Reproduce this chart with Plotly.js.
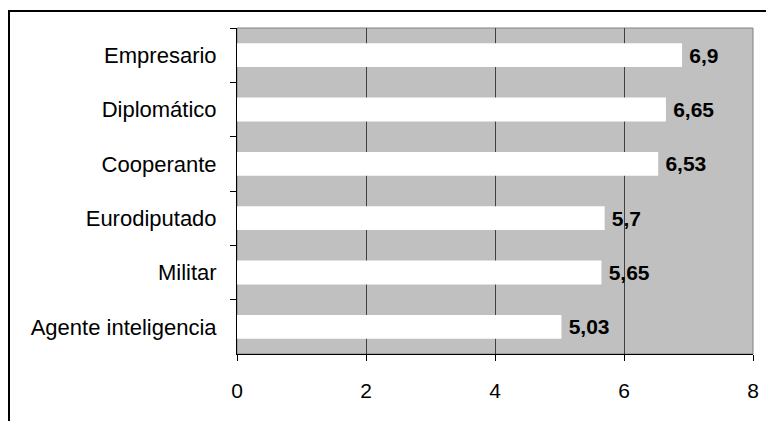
<!DOCTYPE html>
<html>
<head>
<meta charset="utf-8">
<script src="https://cdn.plot.ly/plotly-3.0.1.min.js"></script>
<style>
html,body{margin:0;padding:0;background:#fff;overflow:hidden;}
#frame{position:absolute;left:8px;top:10px;width:770px;height:430px;border:2px solid #000;box-sizing:border-box;}
#chart{position:absolute;left:0;top:0;width:766px;height:421px;}
</style>
</head>
<body>
<div id="frame"></div>
<div id="chart"></div>
<script>
const categories = ["Empresario","Diplomático","Cooperante","Eurodiputado","Militar","Agente inteligencia"];
const values = [6.9, 6.65, 6.53, 5.7, 5.65, 5.03];
const xTicks = [0, 2, 4, 6, 8];
const labels = values.map(v => '\u2009' + String(v).replace('.', ','));

const trace = {
  type: 'bar',
  orientation: 'h',
  y: categories,
  x: values,
  text: labels,
  textposition: 'outside',
  cliponaxis: false,
  textfont: {family: 'Liberation Sans, Arial, sans-serif', size: 21, color: '#000', weight: 'bold'},
  marker: {color: '#ffffff', line: {width: 0}},
  hoverinfo: 'none'
};

const layout = {
  width: 766, height: 421,
  margin: {l: 237, r: 13, t: 28, b: 67},
  paper_bgcolor: 'rgba(0,0,0,0)',
  plot_bgcolor: '#c0c0c0',
  bargap: 0.56,
  showlegend: false,
  font: {family: 'Liberation Sans, Arial, sans-serif', size: 21, color: '#000'},
  xaxis: {
    range: [0, 8],
    tickvals: xTicks,
    ticktext: xTicks.map(String),
    tickfont: {size: 21},
    showgrid: true, gridcolor: '#404040', gridwidth: 1,
    zeroline: false,
    showline: true, linecolor: '#000', linewidth: 1,
    ticks: 'outside', ticklen: 6, tickcolor: '#000',
    ticklabelstandoff: 12,
    fixedrange: true
  },
  yaxis: {
    type: 'category',
    autorange: 'reversed',
    tickfont: {size: 22},
    showgrid: false, zeroline: false,
    showline: true, linecolor: '#000', linewidth: 1,
    ticks: 'outside', ticklen: 6, tickcolor: '#000',
    tickson: 'boundaries',
    ticklabelstandoff: 15,
    fixedrange: true
  },
  shapes: [{
    type: 'rect', xref: 'paper', yref: 'paper', x0: 0, x1: 1, y0: 0, y1: 1,
    line: {color: '#808080', width: 1}, layer: 'below'
  }]
};

Plotly.newPlot('chart', [trace], layout, {displayModeBar: false, staticPlot: true});
</script>
</body>
</html>
